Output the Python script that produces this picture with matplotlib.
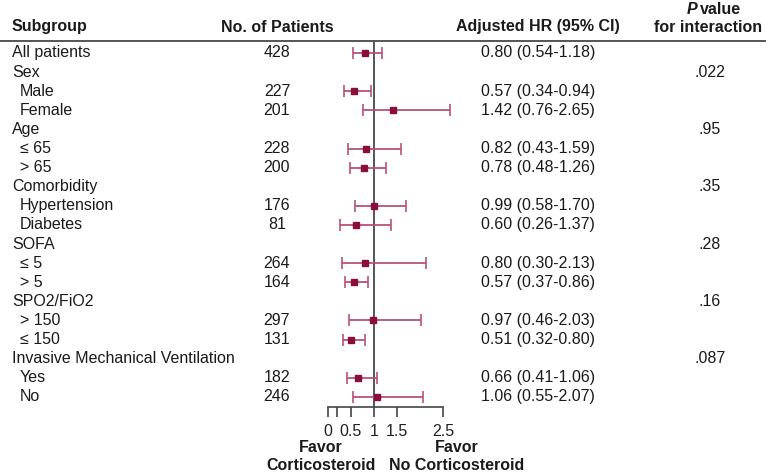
import numpy as np
import matplotlib.pyplot as plt
import matplotlib.transforms as mtransforms

plt.rcParams['font.family'] = ['Liberation Sans', 'DejaVu Sans']

subgroups = ['All patients', 'Sex', 'Male', 'Female', 'Age', '≤ 65', '> 65',
             'Comorbidity', 'Hypertension', 'Diabetes', 'SOFA', '≤ 5', '> 5',
             'SPO2/FiO2', '> 150', '≤ 150', 'Invasive Mechanical Ventilation',
             'Yes', 'No']
is_sub = [0, 0, 1, 1, 0, 1, 1, 0, 1, 1, 0, 1, 1, 0, 1, 1, 0, 1, 1]
patients = ['428', '', '227', '201', '', '228', '200', '', '176', '81', '',
            '264', '164', '', '297', '131', '', '182', '246']
hr = [0.80, None, 0.57, 1.42, None, 0.82, 0.78, None, 0.99, 0.60, None,
      0.80, 0.57, None, 0.97, 0.51, None, 0.66, 1.06]
ci_lo = [0.54, None, 0.34, 0.76, None, 0.43, 0.48, None, 0.58, 0.26, None,
         0.30, 0.37, None, 0.46, 0.32, None, 0.41, 0.55]
ci_hi = [1.18, None, 0.94, 2.65, None, 1.59, 1.26, None, 1.70, 1.37, None,
         2.13, 0.86, None, 2.03, 0.80, None, 1.06, 2.07]
p_values = ['', '.022', '', '', '.95', '', '', '.35', '', '', '.28', '', '',
            '.16', '', '', '.087', '', '']
x_ticks = [0, 0.2, 0.5, 1, 1.5, 2.5]
x_ticklabels = ['0', '', '0.5', '1', '1.5', '2.5']

W, H = 770, 475
fig = plt.figure(figsize=(W / 100, H / 100), dpi=100)

# forest axes: x 0..2.5 -> px 328..443, rows from y=40 px down to axis at 407 px
ax = fig.add_axes([328 / W, (H - 407) / H, 115 / W, 367 / H])
ax.set_xlim(0, 2.5)
ax.set_ylim(18.53, -0.68)
for s in ['top', 'right', 'left']:
    ax.spines[s].set_visible(False)
ax.spines['bottom'].set_color('#444444')
ax.spines['bottom'].set_linewidth(1.2)
ax.set_yticks([])
ax.set_xticks(x_ticks)
ax.set_xticklabels(x_ticklabels, fontsize=11.5, color='#222222')
ax.tick_params(axis='x', direction='out', length=7, width=1.2,
               color='#444444', pad=5)
ax.axvline(1, color='#555555', lw=1.4, zorder=1)

line_col = '#b8507a'
mark_col = '#8a0e3c'
for i in range(len(subgroups)):
    if hr[i] is None:
        continue
    ax.errorbar(hr[i], i, xerr=[[hr[i] - ci_lo[i]], [ci_hi[i] - hr[i]]],
                fmt='s', ms=4.3, color=mark_col, ecolor=line_col,
                elinewidth=1.3, capsize=4, capthick=1.2, zorder=3,
                clip_on=False)

# text columns: x in figure pixels, y in row units
tr = mtransforms.blended_transform_factory(fig.transFigure, ax.transData)
fs = 11.5
for i, name in enumerate(subgroups):
    x = 20 if is_sub[i] else 12
    fig.text(x / W, i, name, transform=tr, fontsize=fs, va='center',
             ha='left', color='#1a1a1a')
    if patients[i]:
        fig.text(277 / W, i, patients[i], transform=tr, fontsize=fs,
                 va='center', ha='center', color='#1a1a1a')
    if hr[i] is not None:
        txt = f'{hr[i]:.2f} ({ci_lo[i]:.2f}-{ci_hi[i]:.2f})'
        fig.text(538 / W, i, txt, transform=tr, fontsize=fs, va='center',
                 ha='center', color='#1a1a1a')
    if p_values[i]:
        fig.text(710 / W, i, p_values[i], transform=tr, fontsize=fs,
                 va='center', ha='center', color='#1a1a1a')

# headers
hy = 1 - 27 / H
fig.text(12 / W, hy, 'Subgroup', fontsize=fs, weight='bold', va='center',
         ha='left', color='#1a1a1a')
fig.text(277 / W, hy, 'No. of Patients', fontsize=fs, weight='bold',
         va='center', ha='center', color='#1a1a1a')
fig.text(538 / W, hy, 'Adjusted HR (95% CI)', fontsize=fs, weight='bold',
         va='center', ha='center', color='#1a1a1a')
fig.text(697 / W, 1 - 9 / H, 'P', fontsize=fs, weight='bold',
         style='italic', va='center', ha='right', color='#1a1a1a')
fig.text(700 / W, 1 - 9 / H, 'value', fontsize=fs, weight='bold',
         va='center', ha='left', color='#1a1a1a')
fig.text(708 / W, hy, 'for interaction', fontsize=fs, weight='bold',
         va='center', ha='center', color='#1a1a1a')

# header rule
fig.add_artist(plt.Line2D([0, 765 / W], [1 - 40.5 / H, 1 - 40.5 / H],
                          transform=fig.transFigure, color='#555555', lw=1.4))

# favor labels
fig.text(321 / W, 1 - 456 / H, 'Favor\nCorticosteroid', fontsize=fs,
         weight='bold', va='center', ha='center', linespacing=1.25,
         color='#1a1a1a')
fig.text(457 / W, 1 - 456 / H, 'Favor\nNo Corticosteroid', fontsize=fs,
         weight='bold', va='center', ha='center', linespacing=1.25,
         color='#1a1a1a')

fig.savefig('out.png', dpi=100)
